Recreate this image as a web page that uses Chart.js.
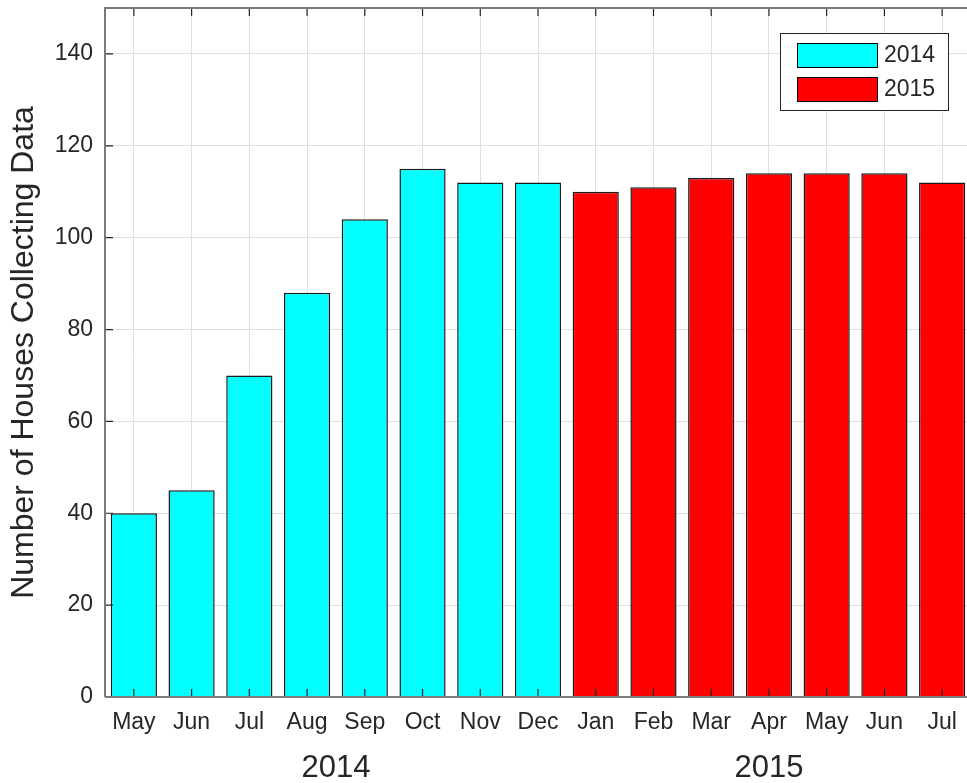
<!DOCTYPE html>
<html>
<head>
<meta charset="utf-8">
<script src="https://cdn.jsdelivr.net/npm/chart.js@4"></script>
<style>
html,body{margin:0;padding:0;background:#fff;overflow:hidden;}
#wrap{width:976px;height:783px;position:relative;}
</style>
</head>
<body>
<div id="wrap"><canvas id="c" width="976" height="783"></canvas></div>
<script>
const months = ['May','Jun','Jul','Aug','Sep','Oct','Nov','Dec','Jan','Feb','Mar','Apr','May','Jun','Jul'];
const values2014 = [40,45,70,88,104,115,112,112,null,null,null,null,null,null,null];
const values2015 = [null,null,null,null,null,null,null,null,110,111,113,114,114,114,112];
const yearLabels = ['2014','2015'];
const yearStart = [0,8];
const yearEnd = [7,14];
const yTicks = [0,20,40,60,80,100,120,140];

const FONT = '"Liberation Sans", Arial, Helvetica, sans-serif';
const TXT = '#262626';

const extrasPlugin = {
  id: 'extras',
  afterDraw(chart) {
    const ctx = chart.ctx;
    const a = chart.chartArea;
    const xs = chart.scales.x, ys = chart.scales.y;
    ctx.save();
    // inward ticks
    ctx.strokeStyle = '#262626';
    ctx.lineWidth = 1.2;
    const tl = 8;
    ctx.beginPath();
    for (let i = 0; i < months.length; i++) {
      const px = xs.getPixelForValue(i);
      ctx.moveTo(px, a.top); ctx.lineTo(px, a.top + tl);
      ctx.moveTo(px, a.bottom); ctx.lineTo(px, a.bottom - tl);
    }
    for (const v of yTicks) {
      const py = ys.getPixelForValue(v);
      ctx.moveTo(a.left, py); ctx.lineTo(a.left + tl, py);
    }
    ctx.stroke();
    // box
    ctx.strokeStyle = '#7a7a7a';
    ctx.lineWidth = 2;
    ctx.beginPath();
    ctx.moveTo(a.left, a.bottom); ctx.lineTo(a.left, a.top); ctx.lineTo(a.right, a.top);
    ctx.moveTo(a.left, a.bottom); ctx.lineTo(a.right, a.bottom);
    ctx.stroke();
    // year group labels
    ctx.fillStyle = TXT;
    ctx.font = '31px ' + FONT;
    ctx.textAlign = 'center';
    ctx.textBaseline = 'middle';
    for (let g = 0; g < yearLabels.length; g++) {
      const px = (xs.getPixelForValue(yearStart[g]) + xs.getPixelForValue(yearEnd[g])) / 2;
      ctx.fillText(yearLabels[g], px, 768);
    }
    // legend
    const lx = 780, ly = 33, lw = 168, lh = 77;
    ctx.fillStyle = '#fff';
    ctx.fillRect(lx, ly, lw, lh);
    ctx.strokeStyle = '#262626';
    ctx.lineWidth = 1;
    ctx.strokeRect(lx + 0.5, ly + 0.5, lw, lh);
    ctx.font = '23px ' + FONT;
    ctx.textAlign = 'left';
    chart.data.datasets.forEach((ds, i) => {
      const sy = 43 + i * 34;
      ctx.fillStyle = ds.backgroundColor;
      ctx.fillRect(797, sy, 80, 24);
      ctx.strokeStyle = '#000';
      ctx.strokeRect(797.5, sy + 0.5, 80, 24);
      ctx.fillStyle = TXT;
      ctx.fillText(ds.label, 884, sy + 13);
    });
    ctx.restore();
  }
};

new Chart(document.getElementById('c'), {
  type: 'bar',
  data: {
    labels: months,
    datasets: [
      {label: '2014', data: values2014, backgroundColor: '#00ffff', borderColor: '#1a1a1a', borderWidth: 1.5},
      {label: '2015', data: values2015, backgroundColor: '#ff0000', borderColor: '#1a1a1a', borderWidth: 1.5}
    ]
  },
  options: {
    responsive: false,
    animation: false,
    layout: {padding: {top: 8, right: 5, left: 0, bottom: 0}},
    datasets: {bar: {grouped: false, categoryPercentage: 1.0, barPercentage: 0.8}},
    plugins: {legend: {display: false}, tooltip: {enabled: false}},
    scales: {
      x: {
        offset: true,
        grid: {display: true, color: '#e0e0e0', lineWidth: 1, offset: false, drawTicks: false},
        border: {display: false},
        ticks: {color: TXT, font: {family: FONT, size: 23}, padding: 12, maxRotation: 0, autoSkip: false},
        afterFit(s) { s.height = 86; s.paddingLeft = 0; s.paddingRight = 0; }
      },
      y: {
        min: 0, max: 150,
        afterBuildTicks(s) { s.ticks = yTicks.map(v => ({value: v})); },
        grid: {display: true, color: '#e0e0e0', lineWidth: 1, drawTicks: false},
        border: {display: false},
        ticks: {color: TXT, font: {family: FONT, size: 23}, padding: 12},
        title: {display: true, text: 'Number of Houses Collecting Data', color: TXT, font: {family: FONT, size: 32}, padding: {top: 5, bottom: 4}},
        afterFit(s) { s.width = 105; s.paddingTop = 0; s.paddingBottom = 0; }
      }
    }
  },
  plugins: [extrasPlugin]
});
</script>
</body>
</html>
